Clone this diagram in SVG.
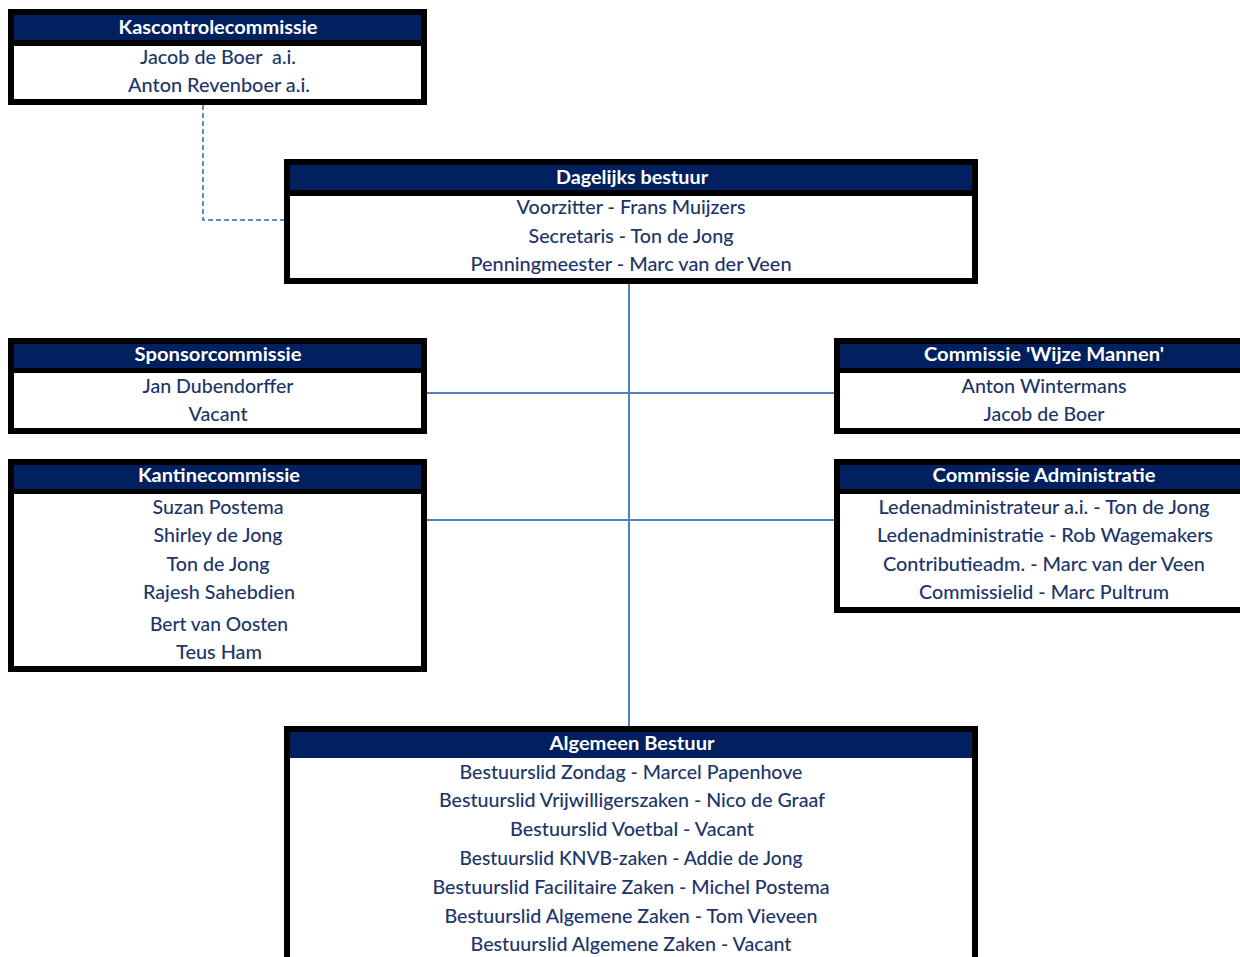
<svg xmlns="http://www.w3.org/2000/svg" width="1240" height="957" viewBox="0 0 1240 957">
<style>
.frame{fill:#000000}
.hdr{fill:#002060}
.body{fill:#ffffff}
.ht{font-family:Lato,"Liberation Sans",sans-serif;font-weight:bold;font-size:18px;fill:#ffffff;text-anchor:middle}
.bt{font-family:Lato,"Liberation Sans",sans-serif;font-size:18.5px;font-weight:500;fill:#1C3568;text-anchor:middle}
.conn{stroke:#4F81BD;stroke-width:2;fill:none}
.dash{stroke:#5B8ED0;stroke-width:2;fill:none;stroke-dasharray:5 3}
</style>
<rect width="1240" height="957" fill="#ffffff"/>
<g id="connectors">
<path class="dash" d="M203,105 V220 H284"/>
<path class="conn" d="M629,284 V726"/>
<path class="conn" d="M423,393 H838"/>
<path class="conn" d="M423,520 H838"/>
</g>
<g id="kascontrolecommissie">
<rect class="frame" x="8" y="9" width="419" height="96"/>
<rect class="hdr" x="14" y="15" width="407" height="25"/>
<rect class="body" x="14" y="46" width="407" height="53"/>
<text class="ht" x="218" y="34" textLength="199" lengthAdjust="spacingAndGlyphs">Kascontrolecommissie</text>
<text class="bt" x="218" y="64" textLength="156" lengthAdjust="spacingAndGlyphs" xml:space="preserve">Jacob de Boer  a.i.</text>
<text class="bt" x="219" y="92" textLength="182" lengthAdjust="spacingAndGlyphs">Anton Revenboer a.i.</text>
</g>
<g id="dagelijks-bestuur">
<rect class="frame" x="284" y="159" width="694" height="125"/>
<rect class="hdr" x="290" y="165" width="682" height="25"/>
<rect class="body" x="290" y="196" width="682" height="82"/>
<text class="ht" x="632" y="184" textLength="152" lengthAdjust="spacingAndGlyphs">Dagelijks bestuur</text>
<text class="bt" x="631" y="214" textLength="229" lengthAdjust="spacingAndGlyphs">Voorzitter - Frans Muijzers</text>
<text class="bt" x="631" y="243" textLength="205" lengthAdjust="spacingAndGlyphs">Secretaris - Ton de Jong</text>
<text class="bt" x="631" y="271" textLength="321" lengthAdjust="spacingAndGlyphs">Penningmeester - Marc van der Veen</text>
</g>
<g id="sponsorcommissie">
<rect class="frame" x="8" y="338" width="419" height="96"/>
<rect class="hdr" x="14" y="344" width="407" height="24"/>
<rect class="body" x="14" y="373" width="407" height="55"/>
<text class="ht" x="218" y="361" textLength="167" lengthAdjust="spacingAndGlyphs">Sponsorcommissie</text>
<text class="bt" x="218" y="393" textLength="151" lengthAdjust="spacingAndGlyphs">Jan Dubendorffer</text>
<text class="bt" x="218" y="421" textLength="59" lengthAdjust="spacingAndGlyphs">Vacant</text>
</g>
<g id="wijze-mannen">
<rect class="frame" x="834" y="338" width="419" height="96"/>
<rect class="hdr" x="840" y="344" width="407" height="24"/>
<rect class="body" x="840" y="373" width="407" height="55"/>
<text class="ht" x="1044" y="361" textLength="240" lengthAdjust="spacingAndGlyphs">Commissie 'Wijze Mannen'</text>
<text class="bt" x="1044" y="393" textLength="165" lengthAdjust="spacingAndGlyphs">Anton Wintermans</text>
<text class="bt" x="1044" y="421" textLength="121" lengthAdjust="spacingAndGlyphs">Jacob de Boer</text>
</g>
<g id="kantinecommissie">
<rect class="frame" x="8" y="459" width="419" height="213"/>
<rect class="hdr" x="14" y="465" width="407" height="24"/>
<rect class="body" x="14" y="494" width="407" height="172"/>
<text class="ht" x="219" y="482" textLength="162" lengthAdjust="spacingAndGlyphs">Kantinecommissie</text>
<text class="bt" x="218" y="514" textLength="131" lengthAdjust="spacingAndGlyphs">Suzan Postema</text>
<text class="bt" x="218" y="542" textLength="129" lengthAdjust="spacingAndGlyphs">Shirley de Jong</text>
<text class="bt" x="218" y="571" textLength="103" lengthAdjust="spacingAndGlyphs">Ton de Jong</text>
<text class="bt" x="219" y="599" textLength="152" lengthAdjust="spacingAndGlyphs">Rajesh Sahebdien</text>
<text class="bt" x="219" y="631" textLength="138" lengthAdjust="spacingAndGlyphs">Bert van Oosten</text>
<text class="bt" x="219" y="659" textLength="86" lengthAdjust="spacingAndGlyphs">Teus Ham</text>
</g>
<g id="commissie-administratie">
<rect class="frame" x="834" y="459" width="419" height="154"/>
<rect class="hdr" x="840" y="465" width="407" height="24"/>
<rect class="body" x="840" y="494" width="407" height="113"/>
<text class="ht" x="1044" y="482" textLength="223" lengthAdjust="spacingAndGlyphs">Commissie Administratie</text>
<text class="bt" x="1044" y="514" textLength="331" lengthAdjust="spacingAndGlyphs">Ledenadministrateur a.i. - Ton de Jong</text>
<text class="bt" x="1045" y="542" textLength="336" lengthAdjust="spacingAndGlyphs">Ledenadministratie - Rob Wagemakers</text>
<text class="bt" x="1044" y="571" textLength="322" lengthAdjust="spacingAndGlyphs">Contributieadm. - Marc van der Veen</text>
<text class="bt" x="1044" y="599" textLength="250" lengthAdjust="spacingAndGlyphs">Commissielid - Marc Pultrum</text>
</g>
<g id="algemeen-bestuur">
<rect class="frame" x="284" y="726" width="694" height="240"/>
<rect class="hdr" x="290" y="732" width="682" height="26"/>
<rect class="body" x="290" y="758" width="682" height="210"/>
<text class="ht" x="632" y="750" textLength="165" lengthAdjust="spacingAndGlyphs">Algemeen Bestuur</text>
<text class="bt" x="631" y="779" textLength="343" lengthAdjust="spacingAndGlyphs">Bestuurslid Zondag - Marcel Papenhove</text>
<text class="bt" x="632" y="807" textLength="386" lengthAdjust="spacingAndGlyphs">Bestuurslid Vrijwilligerszaken - Nico de Graaf</text>
<text class="bt" x="632" y="836" textLength="244" lengthAdjust="spacingAndGlyphs">Bestuurslid Voetbal - Vacant</text>
<text class="bt" x="631" y="865" textLength="343" lengthAdjust="spacingAndGlyphs">Bestuurslid KNVB-zaken - Addie de Jong</text>
<text class="bt" x="631" y="894" textLength="397" lengthAdjust="spacingAndGlyphs">Bestuurslid Facilitaire Zaken - Michel Postema</text>
<text class="bt" x="631" y="923" textLength="373" lengthAdjust="spacingAndGlyphs">Bestuurslid Algemene Zaken - Tom Vieveen</text>
<text class="bt" x="631" y="951" textLength="321" lengthAdjust="spacingAndGlyphs">Bestuurslid Algemene Zaken - Vacant</text>
</g>
</svg>
